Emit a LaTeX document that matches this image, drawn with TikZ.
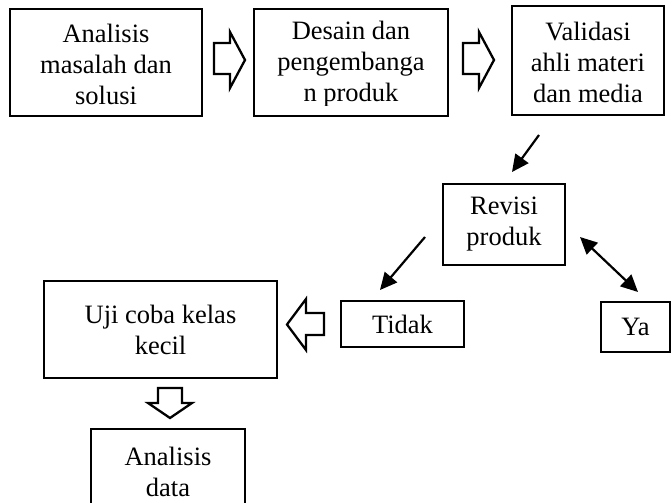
\documentclass[tikz,border=0pt]{standalone}
\usepackage{fontspec}
\setmainfont{Liberation Serif}
\usetikzlibrary{arrows.meta}
\begin{document}
\begin{tikzpicture}[x=1pt,y=-1pt,
  box/.style={draw, line width=2.6pt, rectangle, inner sep=0pt, align=center,
    font=\fontsize{26.5}{31}\selectfont},
  conn/.style={line width=2.2pt, -{Triangle[length=17pt,width=16pt]}},
  bothconn/.style={line width=2.2pt, {Triangle[length=17pt,width=16pt]}-{Triangle[length=17pt,width=16pt]}},
  hollow/.style={draw, line width=2.3pt, fill=white, line join=miter}]
\useasboundingbox (0,0) rectangle (672,503);

% boxes
\node[box, minimum width=192pt, minimum height=107pt] (b1) at (106,62.5)
  {\strut Analisis\\masalah dan\\solusi};
\node[box, minimum width=194pt, minimum height=107pt] (b2) at (351,62.5)
  {\strut Desain dan\\pengembanga\\n produk};
\fill[white] (257,105.5) rectangle (445,114.3);
\node[box, minimum width=152pt, minimum height=109pt] (b3) at (588,60.5)
  {\strut Validasi\\ahli materi\\dan media};
\node[box, minimum width=122pt, minimum height=81pt] (rev) at (504,224.5)
  {Revisi\\produk};
\node[box, minimum width=123pt, minimum height=46pt] (tidak) at (402.5,324)
  {Tidak};
\node[box, minimum width=69pt, minimum height=50pt] (ya) at (635.5,327)
  {Ya};
\node[box, minimum width=233pt, minimum height=97pt] (uji) at (160.5,329.5)
  {Uji coba kelas\\kecil};
\node[box, minimum width=154pt, minimum height=86pt] (ad) at (168,472)
  {Analisis\\data};

% hollow block arrows
\draw[hollow] (214,43) -- (230,43) -- (230,32) -- (245,60) -- (230,88) -- (230,74) -- (214,74) -- cycle;
\draw[hollow] (463,43) -- (479,43) -- (479,32) -- (494,60) -- (479,88) -- (479,74) -- (463,74) -- cycle;
\draw[hollow] (324,313) -- (306,313) -- (306,299) -- (287,324.5) -- (306,350) -- (306,335) -- (324,335) -- cycle;
\draw[hollow] (158,388) -- (182,388) -- (182,403) -- (192,403) -- (170,418) -- (148,403) -- (158,403) -- cycle;

% line connectors
\coordinate (a1s) at (539,135);
\coordinate (a1e) at (512,172);
\coordinate (a2s) at (425,237);
\coordinate (a2e) at (380,290);
\coordinate (a3s) at (580,237);
\coordinate (a3e) at (638,292);
\draw[conn] (a1s) -- (a1e);
\draw[conn] (a2s) -- (a2e);
\draw[bothconn] (a3s) -- (a3e);
\end{tikzpicture}
\end{document}
